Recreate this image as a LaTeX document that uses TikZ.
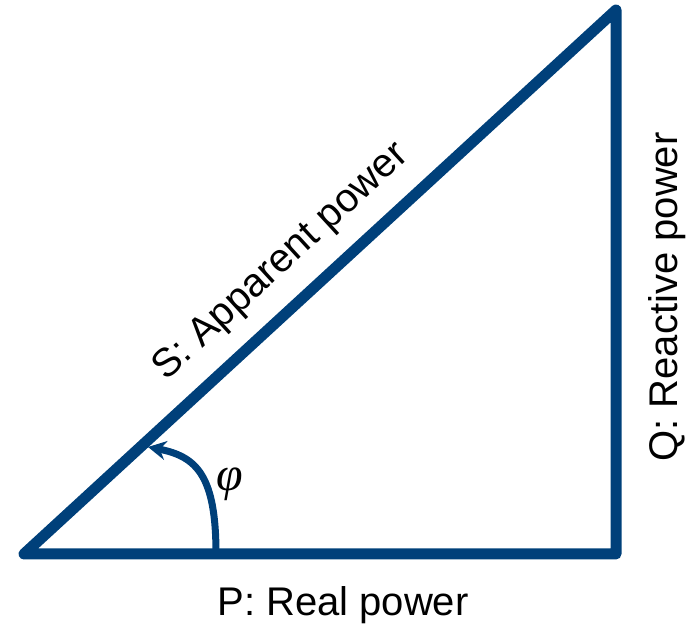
\documentclass[tikz,border=0pt]{standalone}
\usepackage{fontspec}
\setmainfont{Liberation Sans}
\newfontfamily\phifont{Liberation Serif}
\usepackage{tikz}
\usetikzlibrary{arrows.meta}
\definecolor{navy}{HTML}{00407A}

\begin{document}
\begin{tikzpicture}[
  x=0.5pt, y=0.5pt,
  side/.style={draw=navy, line width=5.5pt, line join=round},
  lbl/.style={font=\fontsize{20}{24}\selectfont, inner sep=0pt},
  arrow/.style={-{Stealth[length=9pt, width=9.5pt]}, line width=3.5pt, draw=navy}
]
\useasboundingbox (0,0) rectangle (696,626);
\coordinate (origin) at (24,72);
\coordinate (pend) at (616,72);
\coordinate (qtop) at (616,616);
\coordinate (arcstart) at (216,72);
\coordinate (arcend) at (148,179);

\draw[side] (origin) -- (pend) -- (qtop) -- cycle;
\draw[arrow] (arcstart) .. controls (216,150) and (197,169.5) .. (arcend);

\node[lbl, anchor=base] (plabel) at (343,10) {P: Real power};
\node[lbl, anchor=base, rotate=90] (qlabel) at (677,329) {Q: Reactive power};
\path (origin) -- (qtop) node[lbl, pos=0.481, sloped, anchor=south, yshift=11pt] (slabel) {S: Apparent power};
\node[font=\phifont\itshape\fontsize{24}{28}\selectfont, inner sep=0pt] (philabel) at (230,142) {φ};
\end{tikzpicture}
\end{document}
